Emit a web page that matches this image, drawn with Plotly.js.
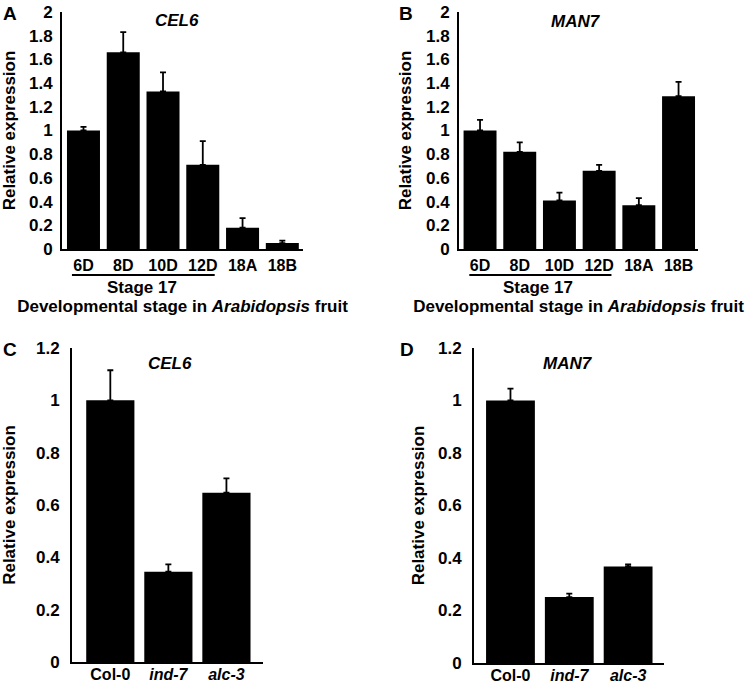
<!DOCTYPE html>
<html>
<head>
<meta charset="utf-8">
<script src="https://cdn.plot.ly/plotly-3.0.1.min.js"></script>
<style>html,body{margin:0;padding:0;background:#fff;}#chart{width:745px;height:683px;}</style>
</head>
<body>
<div id="chart"></div>
<script>
// ---- Data ----
const stages = ['6D', '8D', '10D', '12D', '18A', '18B'];
const cel6Stage = [1.0, 1.66, 1.33, 0.71, 0.18, 0.05];
const cel6StageErr = [0.03, 0.17, 0.16, 0.2, 0.08, 0.02];
const man7Stage = [1.0, 0.82, 0.41, 0.66, 0.37, 1.29];
const man7StageErr = [0.09, 0.08, 0.065, 0.05, 0.06, 0.12];

const genotypes = ['Col-0', 'ind-7', 'alc-3'];
const genotypeLabels = ['Col-0', '<i>ind-7</i>', '<i>alc-3</i>'];
const cel6Geno = [1.0, 0.345, 0.647];
const cel6GenoErr = [0.115, 0.028, 0.055];
const man7Geno = [1.0, 0.251, 0.368];
const man7GenoErr = [0.045, 0.013, 0.008];

const panelLetters = ['A', 'B', 'C', 'D'];
const geneNames = ['CEL6', 'MAN7', 'CEL6', 'MAN7'];
const yTitle = 'Relative expression';
const stageGroupLabel = 'Stage 17';
const xTitleAB = 'Developmental stage in <i>Arabidopsis</i> fruit';

// ---- Styling ----
const FONT = 'Liberation Sans, Arial, Helvetica, sans-serif';
const W = 745, H = 683;
const px = v => v / W;
const py = v => 1 - v / H;

function barTrace(x, y, err, xa, ya) {
  return {
    type: 'bar', x: x, y: y, xaxis: xa, yaxis: ya,
    width: 0.83,
    marker: {color: '#000', line: {width: 0}},
    error_y: {type: 'data', array: err, arrayminus: err.map(() => 0), symmetric: false,
              color: '#000', thickness: 1.8, width: 3},
    showlegend: false, hoverinfo: 'x+y'
  };
}

const data = [
  barTrace(stages, cel6Stage, cel6StageErr, 'x', 'y'),
  barTrace(stages, man7Stage, man7StageErr, 'x2', 'y2'),
  barTrace(genotypes, cel6Geno, cel6GenoErr, 'x3', 'y3'),
  barTrace(genotypes, man7Geno, man7GenoErr, 'x4', 'y4')
];

const xTickFont = {family: FONT, size: 16, color: '#000', weight: 'bold'};
const yTickFont = {family: FONT, size: 17, color: '#000', weight: 'bold'};
const titleFont = {family: FONT, size: 17, color: '#000', weight: 'bold'};

function xAxis(domain, range, anchor, standoff, extra) {
  return Object.assign({
    domain: domain, range: range, anchor: anchor, type: 'category',
    showline: true, linecolor: '#000', linewidth: 2, ticks: '', showgrid: false,
    zeroline: false, tickfont: xTickFont, ticklabelstandoff: standoff, fixedrange: true
  }, extra || {});
}
function yAxis(domain, range, anchor, tickStandoff, standoff) {
  return {
    domain: domain, range: range, anchor: anchor, dtick: 0.2,
    showline: true, linecolor: '#000', linewidth: 2, ticks: '', showgrid: false,
    zeroline: false, tickfont: yTickFont, ticklabelstandoff: tickStandoff, fixedrange: true,
    title: {text: yTitle, font: titleFont, standoff: standoff}
  };
}

const layout = {
  width: W, height: H,
  margin: {l: 0, r: 0, t: 0, b: 0},
  paper_bgcolor: '#fff', plot_bgcolor: '#fff',
  font: {family: FONT, color: '#000'},
  bargap: 0.17,
  xaxis: xAxis([px(62), px(303)], [-0.54, 5.52], 'y', 1,
    {title: {text: xTitleAB, font: titleFont, standoff: 27}}),
  yaxis: yAxis([py(249), py(12)], [0, 2], 'x', 4, 10),
  xaxis2: xAxis([px(459), px(698)], [-0.53, 5.49], 'y2', 1,
    {title: {text: xTitleAB, font: titleFont, standoff: 27}}),
  yaxis2: yAxis([py(249), py(12)], [0, 2], 'x2', 4, 10),
  xaxis3: xAxis([px(72), px(263)], [-0.66, 2.63], 'y3', -3,
    {tickmode: 'array', tickvals: genotypes, ticktext: genotypeLabels}),
  yaxis3: yAxis([py(662), py(348)], [0, 1.2], 'x3', 7, 20),
  xaxis4: xAxis([px(474), px(664)], [-0.62, 2.61], 'y4', -3,
    {tickmode: 'array', tickvals: genotypes, ticktext: genotypeLabels}),
  yaxis4: yAxis([py(663), py(348)], [0, 1.2], 'x4', 7, 9),
  shapes: [
    {type: 'line', xref: 'x', yref: 'paper', x0: -0.29, x1: 3.30, y0: py(275), y1: py(275),
     line: {color: '#000', width: 2}},
    {type: 'line', xref: 'x2', yref: 'paper', x0: -0.27, x1: 3.31, y0: py(275), y1: py(275),
     line: {color: '#000', width: 2}}
  ],
  annotations: [
    // panel letters
    {text: panelLetters[0], x: px(10), y: py(14)},
    {text: panelLetters[1], x: px(406), y: py(14)},
    {text: panelLetters[2], x: px(10), y: py(349)},
    {text: panelLetters[3], x: px(407), y: py(349)}
  ].map(a => Object.assign(a, {xref: 'paper', yref: 'paper', showarrow: false,
      xanchor: 'center', yanchor: 'middle', font: {family: FONT, size: 19, color: '#000', weight: 'bold'}}))
  .concat([
    {text: '<i>' + geneNames[0] + '</i>', x: px(177), y: py(20)},
    {text: '<i>' + geneNames[1] + '</i>', x: px(576), y: py(22)},
    {text: '<i>' + geneNames[2] + '</i>', x: px(170), y: py(363)},
    {text: '<i>' + geneNames[3] + '</i>', x: px(568), y: py(363)}
  ].map(a => Object.assign(a, {xref: 'paper', yref: 'paper', showarrow: false,
      xanchor: 'center', yanchor: 'middle', font: titleFont})))
  .concat([
    {text: stageGroupLabel, x: px(142), y: py(287)},
    {text: stageGroupLabel, x: px(538), y: py(287)}
  ].map(a => Object.assign(a, {xref: 'paper', yref: 'paper', showarrow: false,
      xanchor: 'center', yanchor: 'middle', font: titleFont})))
};

Plotly.newPlot('chart', data, layout, {displayModeBar: false, staticPlot: true});
</script>
</body>
</html>
